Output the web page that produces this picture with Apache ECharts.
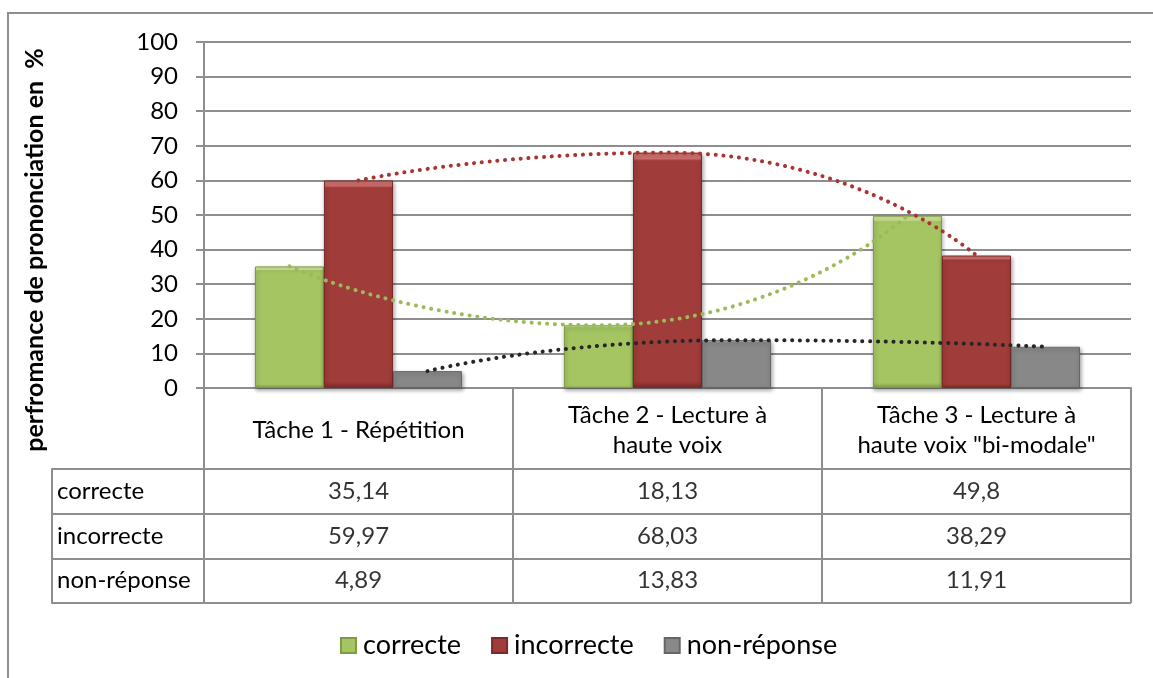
<!DOCTYPE html>
<html>
<head>
<meta charset="utf-8">
<script src="https://cdn.jsdelivr.net/npm/echarts@6/dist/echarts.min.js"></script>
<style>
html,body{margin:0;padding:0;background:#fff;}
#chart{width:1153px;height:678px;}
</style>
</head>
<body>
<div id="chart"></div>
<script>
// ---- data ----
const categories = ['Tâche 1 - Répétition', 'Tâche 2 - Lecture à\nhaute voix', 'Tâche 3 - Lecture à\nhaute voix "bi-modale"'];
const seriesNames = ['correcte', 'incorrecte', 'non-réponse'];
const correcte = [35.14, 18.13, 49.8];
const incorrecte = [59.97, 68.03, 38.29];
const nonReponse = [4.89, 13.83, 11.91];
const yAxisTitle = 'perfromance de prononciation en  %';
const yMin = 0, yMax = 100, yStep = 10;

// ---- styling ----
const FONT = 'Lato';
const FS = 24;
const GRAY = '#8e8e8e';
const LW = 2;
const faceColors = ['#a5c563', '#a03c3a', '#888888'];
const lightColors = ['#cde392', '#cc6e6c', '#b8b8b8'];
const darkColors = ['#7f9a45', '#7a2a29', '#666666'];
const trendColors = ['#9bbb59', '#a83434', '#262626'];
const barCategoryGapFrac = 0.33;
const barFrac = (1 - barCategoryGapFrac) / 3;

const values = [correcte, incorrecte, nonReponse];

function fmt(v) { return String(v).replace('.', ','); }

const series = [];
values.forEach((arr, s) => {
  series.push({
    name: seriesNames[s],
    type: 'bar',
    xAxisIndex: 0, yAxisIndex: 0,
    barGap: '0%',
    barCategoryGap: (barCategoryGapFrac * 100) + '%',
    data: arr,
    z: 2,
    itemStyle: {
      color: {
        type: 'linear', x: 0, y: 0, x2: 0, y2: 1,
        colorStops: [
          { offset: 0, color: lightColors[s] },
          { offset: 0.025, color: lightColors[s] },
          { offset: 0.035, color: faceColors[s] },
          { offset: 0.97, color: faceColors[s] },
          { offset: 1, color: darkColors[s] }
        ]
      },
      borderColor: darkColors[s],
      borderWidth: 1,
      shadowColor: 'rgba(0,0,0,0.35)',
      shadowBlur: 4,
      shadowOffsetX: 1,
      shadowOffsetY: 2
    }
  });
});
// trend lines (smoothed through each series' points, placed at bar centres)
values.forEach((arr, s) => {
  series.push({
    name: 'trend ' + seriesNames[s],
    type: 'line',
    xAxisIndex: 1, yAxisIndex: 0,
    data: arr.map((v, i) => [i + 1 + (s - 1) * barFrac, v]),
    smooth: 0.6,
    symbol: 'none',
    z: 5,
    silent: true,
    lineStyle: { color: trendColors[s], width: 4, type: [0.1, 7.7], cap: 'round' }
  });
});
// data table values
const tableData = [];
values.forEach((arr, s) => arr.forEach((v, i) => tableData.push([i, s, v])));
series.push({
  name: 'table',
  type: 'scatter',
  xAxisIndex: 2, yAxisIndex: 1,
  symbolSize: 1,
  itemStyle: { color: 'rgba(0,0,0,0)' },
  silent: true,
  data: tableData,
  label: {
    show: true, position: 'inside',
    formatter: p => fmt(p.value[2]),
    fontFamily: FONT, fontSize: FS, color: '#000'
  }
});

const chart = echarts.init(document.getElementById('chart'), null, { renderer: 'canvas' });
chart.setOption({
  animation: false,
  backgroundColor: '#fff',
  textStyle: { fontFamily: FONT },
  grid: [
    { left: 204, right: 22, top: 42, height: 346 },
    { left: 204, right: 22, top: 469, height: 134 }
  ],
  legend: {
    data: seriesNames,
    left: 335, top: 627,
    icon: 'rect',
    itemWidth: 15, itemHeight: 15, itemGap: 30,
    textStyle: { fontFamily: FONT, fontSize: 27, color: '#000', padding: [0, 0, 0, 2] }
  },
  xAxis: [
    {
      type: 'category', gridIndex: 0, data: categories,
      axisLine: { show: true, lineStyle: { color: GRAY, width: LW } },
      axisTick: { show: true, length: 81, lineStyle: { color: GRAY, width: LW } },
      axisLabel: { margin: 42, verticalAlign: 'middle', fontFamily: FONT, fontSize: FS, lineHeight: 30, color: '#000', interval: 0 }
    },
    { type: 'value', gridIndex: 0, min: 0.5, max: 3.5, show: false },
    {
      type: 'category', gridIndex: 1, data: categories,
      axisLine: { show: false }, axisTick: { show: false }, axisLabel: { show: false },
      splitLine: { show: true, lineStyle: { color: GRAY, width: LW } }
    }
  ],
  yAxis: [
    {
      type: 'value', gridIndex: 0, min: yMin, max: yMax, interval: yStep,
      axisLine: { show: true, lineStyle: { color: GRAY, width: LW } },
      axisTick: { show: true, length: 8, lineStyle: { color: GRAY, width: LW } },
      axisLabel: { margin: 26, fontFamily: FONT, fontSize: FS, color: '#000' },
      splitLine: { show: true, lineStyle: { color: GRAY, width: LW } }
    },
    {
      type: 'category', gridIndex: 1, data: seriesNames, inverse: true, offset: 152,
      axisLine: { show: true, lineStyle: { color: GRAY, width: LW } },
      axisTick: { show: true, inside: true, length: 152, lineStyle: { color: GRAY, width: LW } },
      axisLabel: { inside: true, margin: 5, fontFamily: FONT, fontSize: FS, color: '#000' },
      splitLine: { show: true, lineStyle: { color: GRAY, width: LW } }
    }
  ],
  graphic: [
    { type: 'rect', shape: { x: 8, y: 13, width: 1400, height: 900 }, style: { fill: 'none', stroke: GRAY, lineWidth: 2 }, silent: true },
    { type: 'text', x: 35, y: 250, rotation: Math.PI / 2,
      style: { text: yAxisTitle, font: 'bold 25px ' + FONT, fill: '#000', align: 'center', verticalAlign: 'middle' }, silent: true }
  ],
  series: series
});
</script>
</body>
</html>
